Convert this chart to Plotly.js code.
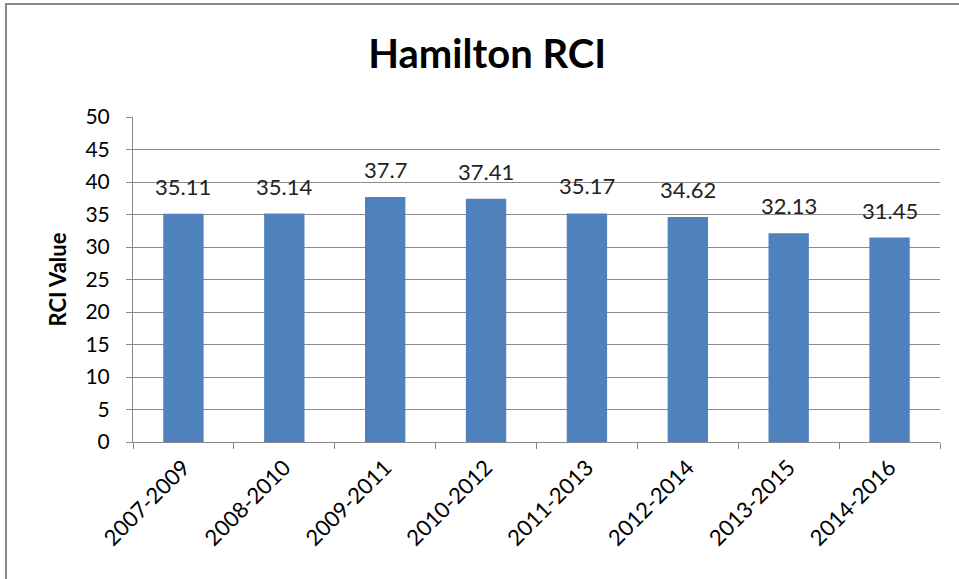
<!DOCTYPE html>
<html>
<head>
<meta charset="utf-8">
<script src="https://cdn.plot.ly/plotly-3.0.1.min.js"></script>
<style>
  html, body { margin: 0; padding: 0; background: #fff; }
  #wrap { position: relative; width: 959px; height: 579px; overflow: hidden; }
  #chart { position: absolute; left: 0; top: 0; width: 959px; height: 579px; }
  #frame { position: absolute; left: 5px; top: 3px; width: 1000px; height: 600px;
           border: 2px solid #8a8a8a; box-sizing: border-box; pointer-events: none; }
</style>
</head>
<body>
<div id="wrap">
  <div id="chart"></div>
  <div id="frame"></div>
</div>
<script>
const categories = ["2007-2009", "2008-2010", "2009-2011", "2010-2012", "2011-2013", "2012-2014", "2013-2015", "2014-2016"];
const rciValues = [35.11, 35.14, 37.7, 37.41, 35.17, 34.62, 32.13, 31.45];
const yTicks = [0, 5, 10, 15, 20, 25, 30, 35, 40, 45, 50];

const FONT = "Lato, 'Open Sans', sans-serif";

const trace = {
  type: "bar",
  x: categories,
  y: rciValues,
  marker: { color: "#4F81BD", line: { width: 0 } },
  hoverinfo: "x+y"
};

const annotations = categories.map((c, i) => ({
  x: c, y: rciValues[i], xref: "x", yref: "y",
  text: String(rciValues[i]),
  showarrow: false, yanchor: "bottom", yshift: 12,
  font: { family: FONT, size: 22, color: "#222" }
}));

const layout = {
  width: 959, height: 579,
  margin: { l: 133, r: 19, t: 117, b: 137 },
  paper_bgcolor: "#fff", plot_bgcolor: "#fff",
  showlegend: false,
  bargap: 0.6,
  title: { text: "<b>Hamilton RCI</b>", x: 0.508, xanchor: "center", y: 0.907, yanchor: "middle",
           font: { family: FONT, size: 40, color: "#000" } },
  xaxis: {
    type: "category",
    tickangle: -45,
    tickson: "boundaries",
    ticks: "outside", ticklen: 6, tickcolor: "#888", tickwidth: 1,
    showline: true, linecolor: "#888", linewidth: 1,
    showgrid: false,
    ticklabelstandoff: 3,
    tickfont: { family: FONT, size: 22, color: "#000" }
  },
  yaxis: {
    range: [0, 50],
    tickvals: yTicks,
    ticks: "outside", ticklen: 6, tickcolor: "#888", tickwidth: 1,
    showline: true, linecolor: "#888", linewidth: 1,
    showgrid: true, gridcolor: "#8c8c8c", gridwidth: 1,
    zeroline: false,
    ticklabelstandoff: 12,
    tickfont: { family: FONT, size: 21, color: "#000" },
    title: { text: "<b>RCI Value</b>", standoff: 12, font: { family: FONT, size: 22, color: "#000" } }
  },
  annotations: annotations
};

Plotly.newPlot("chart", [trace], layout, { displayModeBar: false, staticPlot: true });
</script>
</body>
</html>
